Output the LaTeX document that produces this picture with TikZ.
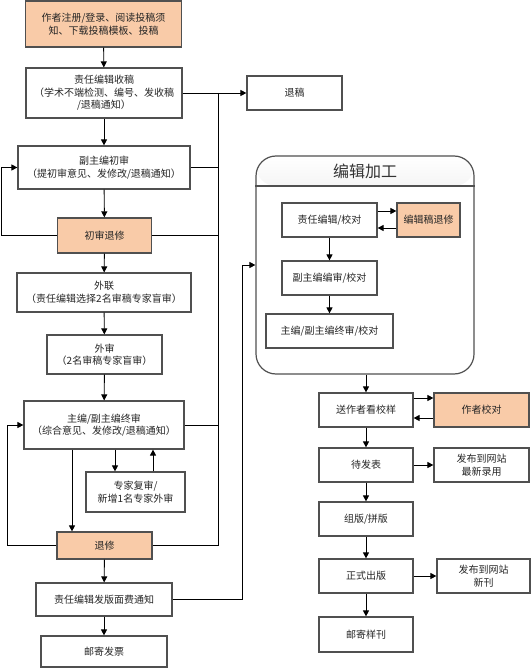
\documentclass[tikz,border=0pt]{standalone}
\usepackage{fontspec}
\newfontfamily\cjk{Noto Sans CJK SC}
\usetikzlibrary{arrows.meta}
\definecolor{peach}{RGB}{249,203,168}
\definecolor{bordergray}{RGB}{80,80,80}
\tikzset{
  box/.style={draw=bordergray, line width=1.2pt, fill=white, align=center, inner sep=1pt,
    font=\cjk\fontsize{10}{12.5}\selectfont, text=black!85},
  obox/.style={box, fill=peach},
  conn/.style={draw=black, line width=0.9pt},
  arr/.style={conn, -{Triangle[length=6pt,width=6pt]}},
}
\begin{document}
\begin{tikzpicture}[x=1pt,y=-1pt]
\useasboundingbox (0,0) rectangle (531,668);
% left column
\node[obox, minimum width=156, minimum height=46] (a1) at (103.5,24) {作者注册/登录、阅读投稿须\\知、下载投稿模板、投稿};
\node[box, minimum width=156, minimum height=50] (a2) at (104,93) {责任编辑收稿\\（学术不端检测、编号、发收稿\\/退稿通知）};
\node[box, minimum width=172, minimum height=43] (a3) at (104,167.5) {副主编初审\\（提初审意见、发修改/退稿通知）};
\node[obox, minimum width=94, minimum height=35] (a4) at (104.5,235.5) {初审退修};
\node[box, minimum width=174, minimum height=39] (a5) at (104,292.5) {外联\\（责任编辑选择2名审稿专家盲审）};
\node[box, minimum width=115, minimum height=39] (a6) at (104.5,354.5) {外审\\（2名审稿专家盲审）};
\node[box, minimum width=160, minimum height=48] (a7) at (104,425) {主编/副主编终审\\（综合意见、发修改/退稿通知）};
\node[box, minimum width=99, minimum height=40] (a8) at (135.5,492) {专家复审/\\新增1名专家外审};
\node[obox, minimum width=95, minimum height=27] (a9) at (104.5,545.5) {退修};
\node[box, minimum width=136, minimum height=33] (a10) at (104,599.5) {责任编辑发版面费通知};
\node[box, minimum width=126, minimum height=31] (a11) at (104,651.5) {邮寄发票};
% reject
\node[box, minimum width=95, minimum height=34] (t) at (294.5,93) {退稿};
% frame
\node[draw=bordergray, line width=1.2pt, rounded corners=20pt, minimum width=218, minimum height=218,
  path picture={\shade[top color=white, bottom color=black!28]
    (path picture bounding box.north west) rectangle ([yshift=-30pt]path picture bounding box.north east);}]
  (fr) at (365,265) {};
\coordinate (hl) at (0,186);
\draw[draw=bordergray, line width=1.2pt] (fr.west |- hl) -- (fr.east |- hl);
\node[font=\cjk\fontsize{16}{18}\selectfont, text=black!80] (title) at (365,171) {编辑加工};
\node[box, minimum width=95, minimum height=34] (b1) at (329.5,220) {责任编辑/校对};
\node[obox, minimum width=63, minimum height=34] (b2) at (428.5,220) {编辑稿退修};
\node[box, minimum width=95, minimum height=34] (b3) at (329.5,278) {副主编编审/校对};
\node[box, minimum width=127, minimum height=34] (b4) at (329.5,331) {主编/副主编终审/校对};
% right column
\node[box, minimum width=94, minimum height=34] (c1) at (366,410) {送作者看校样};
\node[obox, minimum width=95, minimum height=34] (c2) at (481.5,410) {作者校对};
\node[box, minimum width=94, minimum height=34] (c3) at (366,465) {待发表};
\node[box, minimum width=95, minimum height=34] (c4) at (481.5,465) {发布到网站\\最新录用};
\node[box, minimum width=94, minimum height=34] (c5) at (366,519) {组版/拼版};
\node[box, minimum width=94, minimum height=34] (c6) at (366,576) {正式出版};
\node[box, minimum width=93, minimum height=34] (c7) at (483.5,576) {发布到网站\\新刊};
\node[box, minimum width=94, minimum height=35] (c8) at (366,634.5) {邮寄样刊};
% helper coordinates
\coordinate (xr) at (218,0);
\coordinate (xl1) at (1,0);
\coordinate (xl2) at (7,0);
\coordinate (xf) at (242,0);
\coordinate (x72) at (72,0);
\coordinate (x115) at (115,0);
\coordinate (x153) at (153,0);
\coordinate (jtop) at (218,93);
\coordinate (jbot) at (218,545.5);
% connectors left column
\draw[arr] (a1) -- (a2);
\draw[arr] (a2) -- (t);
\draw[conn] (jtop) -- (jbot);
\draw[conn] (a3.east) -- (a3.east -| xr);
\draw[conn] (a4.east) -- (a4.east -| xr);
\draw[conn] (a7.east) -- (a7.east -| xr);
\draw[conn] (a9.east) -- (jbot);
\draw[arr] (a2) -- (a3);
\draw[arr] (a3) -- (a4);
\draw[arr] (a4) -- (a5);
\draw[arr] (a5) -- (a6);
\draw[arr] (a6) -- (a7);
\draw[arr] (a4.west) -- (a4.west -| xl1) -- (a3.west -| xl1) -- (a3.west);
\draw[arr] (a9.west) -- (a9.west -| xl2) -- (a7.west -| xl2) -- (a7.west);
\draw[arr] (a7.south -| x72) -- (a9.north -| x72);
\draw[arr] (a7.south -| x115) -- (a8.north -| x115);
\draw[arr] (a8.north -| x153) -- (a7.south -| x153);
\draw[arr] (a9) -- (a10);
\draw[arr] (a10) -- (a11);
\draw[arr] (a10.east) -- (a10.east -| xf) -- (fr.west -| xf) -- (fr.west);
% frame internals
\draw[arr] (b1) -- (b3);
\draw[arr] (b3) -- (b4);
\draw[arr] ([yshift=9pt]b1.east) -- ([yshift=9pt]b2.west);
\draw[arr] ([yshift=-8pt]b2.west) -- ([yshift=-8pt]b1.east);
% right column connectors
\draw[arr] (fr.south -| c1) -- (c1);
\draw[arr] ([yshift=12pt]c1.east) -- ([yshift=12pt]c2.west);
\draw[arr] ([yshift=-8pt]c2.west) -- ([yshift=-8pt]c1.east);
\draw[arr] (c1) -- (c3);
\draw[arr] (c3) -- (c4);
\draw[arr] (c3) -- (c5);
\draw[arr] (c5) -- (c6);
\draw[arr] (c6) -- (c7);
\draw[arr] (c6) -- (c8);
\end{tikzpicture}
\end{document}
